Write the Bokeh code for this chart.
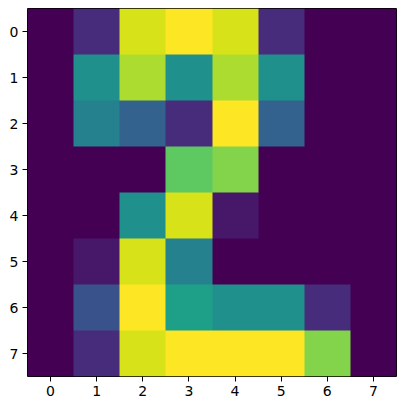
import numpy as np
from bokeh.plotting import figure
from bokeh.models import LinearColorMapper, FixedTicker
from bokeh.palettes import Viridis256
from bokeh.embed import file_html
from bokeh.resources import INLINE

# pixel intensities (8x8 digit image), row 0 at top
row0 = [0, 2, 15, 16, 15, 2, 0, 0]
row1 = [0, 8, 14, 8, 14, 8, 0, 0]
row2 = [0, 7, 5, 2, 16, 5, 0, 0]
row3 = [0, 0, 0, 12, 13, 0, 0, 0]
row4 = [0, 0, 8, 15, 1, 0, 0, 0]
row5 = [0, 1, 15, 7, 0, 0, 0, 0]
row6 = [0, 4, 16, 9, 8, 8, 2, 0]
row7 = [0, 2, 15, 16, 16, 16, 13, 0]
ticks = [0, 1, 2, 3, 4, 5, 6, 7]

img = np.array([row0, row1, row2, row3, row4, row5, row6, row7], dtype=float)

mapper = LinearColorMapper(palette=Viridis256, low=img.min(), high=img.max())

p = figure(width=404, height=401, x_range=(-0.5, 7.5), y_range=(7.5, -0.5),
           output_backend="svg", toolbar_location=None,
           min_border_left=27, min_border_right=8, min_border_top=8, min_border_bottom=25)
p.image(image=[img], x=-0.5, y=-0.5, dw=8, dh=8, color_mapper=mapper)

p.xgrid.visible = False
p.ygrid.visible = False
p.outline_line_color = "black"
p.outline_line_width = 1
for ax in (p.xaxis, p.yaxis):
    ax.ticker = FixedTicker(ticks=ticks)
    ax.minor_tick_line_color = None
    ax.axis_line_color = None
    ax.major_tick_line_color = "black"
    ax.major_tick_out = 5
    ax.major_tick_in = 0
    ax.major_label_text_font = "DejaVu Sans"
    ax.major_label_text_font_size = "14px"
    ax.major_label_text_color = "black"
    ax.major_label_standoff = 4

open("out.html", "w").write(file_html(p, INLINE))
